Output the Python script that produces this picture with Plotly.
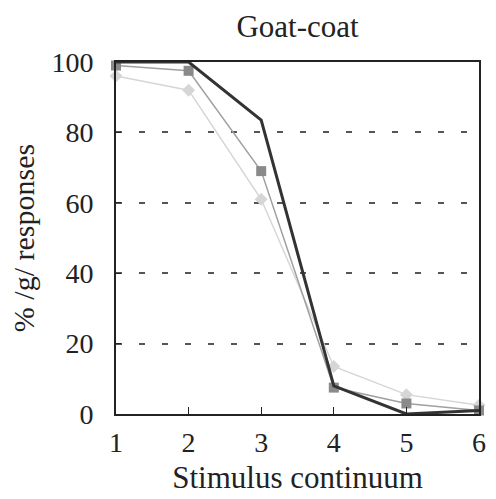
import plotly.graph_objects as go

x_steps = [1, 2, 3, 4, 5, 6]
dark_line = [100, 100, 83.5, 8, 0, 1]
squares = [99, 97.5, 69, 7.5, 3, 1]
diamonds = [96, 92, 61, 13.5, 5.5, 2.5]
y_ticks = [0, 20, 40, 60, 80, 100]

fig = go.Figure()
fig.add_trace(go.Scatter(x=x_steps, y=diamonds, mode="lines+markers",
                         line=dict(color="#d6d6d6", width=1.5),
                         marker=dict(symbol="diamond", size=10, color="#d6d6d6"),
                         cliponaxis=False))
fig.add_trace(go.Scatter(x=x_steps, y=squares, mode="lines+markers",
                         line=dict(color="#a0a0a0", width=1.5),
                         marker=dict(symbol="square", size=10, color="#8a8a8a"),
                         cliponaxis=False))
fig.add_trace(go.Scatter(x=x_steps, y=dark_line, mode="lines",
                         line=dict(color="#333333", width=3),
                         cliponaxis=False))

font = dict(family="Liberation Serif", color="#222222")
fig.update_layout(
    width=496, height=499,
    margin=dict(l=116, r=10, t=62, b=84),
    paper_bgcolor="white", plot_bgcolor="white",
    showlegend=False,
    font=dict(size=28, **font),
    title=dict(text="Goat-coat", x=0.5, xref="paper", xanchor="center",
               y=0.948, yanchor="middle", yref="container",
               font=dict(size=31, **font)),
    xaxis=dict(range=[1, 6], tickvals=x_steps, ticks="inside", ticklen=7,
               tickcolor="#222", showgrid=False, zeroline=False,
               showline=True, linecolor="#222", linewidth=2, mirror=True,
               ticklabelstandoff=2,
               title=dict(text="Stimulus continuum", standoff=10, font=dict(size=31, **font)),
               tickfont=dict(size=28, **font)),
    yaxis=dict(range=[0, 100], tickvals=y_ticks, ticks="inside", ticklen=5,
               tickcolor="#222", showgrid=True, gridcolor="#555", griddash="6px,17px",
               gridwidth=2, zeroline=False,
               showline=True, linecolor="#222", linewidth=2, mirror=True,
               ticklabelstandoff=15,
               title=dict(text="% /g/ responses", standoff=8, font=dict(size=30, **font)),
               tickfont=dict(size=28, **font)),
)
fig.write_html("out.html")
